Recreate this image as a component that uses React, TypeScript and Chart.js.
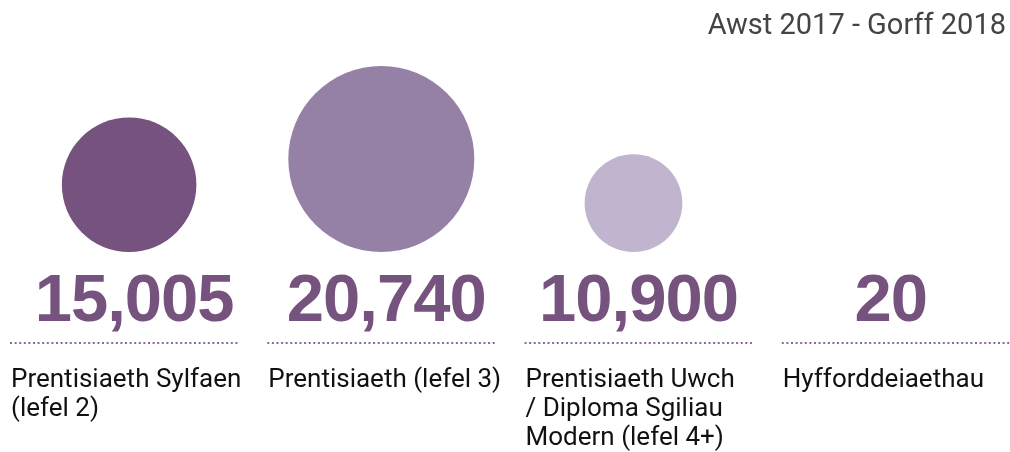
import React, { useEffect, useRef } from "react";
import { Chart, registerables, BubbleController } from "chart.js";

Chart.register(...registerables);
// keep the chart area exactly as the layout padding says (no auto overflow padding)
(BubbleController.prototype as any).getMaxOverflow = function () {
  return 0;
};

const categories: string[][] = [
  ["Prentisiaeth Sylfaen", "(lefel 2)"],
  ["Prentisiaeth (lefel 3)"],
  ["Prentisiaeth Uwch", "/ Diploma Sgiliau", "Modern (lefel 4+)"],
  ["Hyfforddeiaethau"],
];
const values: number[] = [15005, 20740, 10900, 20];
const valueLabels: string[] = ["15,005", "20,740", "10,900", "20"];
const bubbleColors: string[] = ["#76527f", "#9581a5", "#c1b4ce", "#e8b4c4"];
const title = "Awst 2017 - Gorff 2018";

const MAX_R = 93;
const BASE_Y = 252;

export default function App() {
  const ref = useRef<HTMLCanvasElement | null>(null);

  useEffect(() => {
    if (!ref.current) return;
    const maxV = Math.max(...values);
    const points = values.map((v, i) => {
      const r = (v / maxV) * MAX_R;
      return { x: i, y: r, r };
    });

    const textPlugin = {
      id: "textPlugin",
      afterDraw(chart: any) {
        const ctx = chart.ctx as CanvasRenderingContext2D;
        const xs = chart.scales.x;
        const cols = chart.scales.cols;
        ctx.save();
        // title
        ctx.font = "29px Roboto";
        ctx.fillStyle = "#444444";
        ctx.textAlign = "right";
        ctx.textBaseline = "alphabetic";
        ctx.fillText(title, 1006, 34);

        categories.forEach((lines, i) => {
          const cx = xs.getPixelForValue(i);
          // big number
          ctx.save();
          ctx.font = "bold 67px 'Liberation Sans', Arial, sans-serif";
          (ctx as any).letterSpacing = "-1px";
          ctx.fillStyle = "#76527f";
          ctx.textAlign = "center";
          ctx.fillText(valueLabels[i], cx + 5, 321);
          ctx.restore();

          // dotted line
          const x0 = cols.getPixelForValue(i);
          const x1 = x0 + 229;
          ctx.save();
          ctx.strokeStyle = "#8a6a99";
          ctx.lineWidth = 2;
          ctx.setLineDash([2, 2.6]);
          ctx.beginPath();
          ctx.moveTo(x0, 343);
          ctx.lineTo(x1, 343);
          ctx.stroke();
          ctx.restore();

          // labels
          ctx.font = "26px Roboto";
          ctx.fillStyle = "#111111";
          ctx.textAlign = "left";
          lines.forEach((ln, j) => {
            ctx.fillText(ln, x0 + 1, 387 + j * 29);
          });
        });
        ctx.restore();
      },
    };

    const chart = new Chart(ref.current, {
      type: "bubble",
      data: {
        datasets: [
          {
            data: points,
            backgroundColor: bubbleColors,
            borderWidth: 0,
            hoverRadius: 0,
            clip: false,
          } as any,
        ],
      },
      options: {
        animation: false,
        responsive: false,
        events: [],
        layout: { padding: { left: 0, right: 0, top: 0, bottom: 452 - BASE_Y } },
        plugins: { legend: { display: false }, tooltip: { enabled: false } },
        scales: {
          x: { type: "linear", min: -0.512, max: 3.493, display: false },
          cols: { type: "linear", axis: "x", position: "bottom", min: -0.0389, max: 3.887, display: false },
          y: { type: "linear", min: 0, max: BASE_Y, display: false },
        },
      } as any,
      plugins: [textPlugin],
    });
    return () => chart.destroy();
  }, []);

  return (
    <div style={{ position: "fixed", left: 0, top: 0, width: 1010, height: 452, background: "#fff" }}>
      <canvas ref={ref} width={1010} height={452} style={{ display: "block" }} />
    </div>
  );
}
